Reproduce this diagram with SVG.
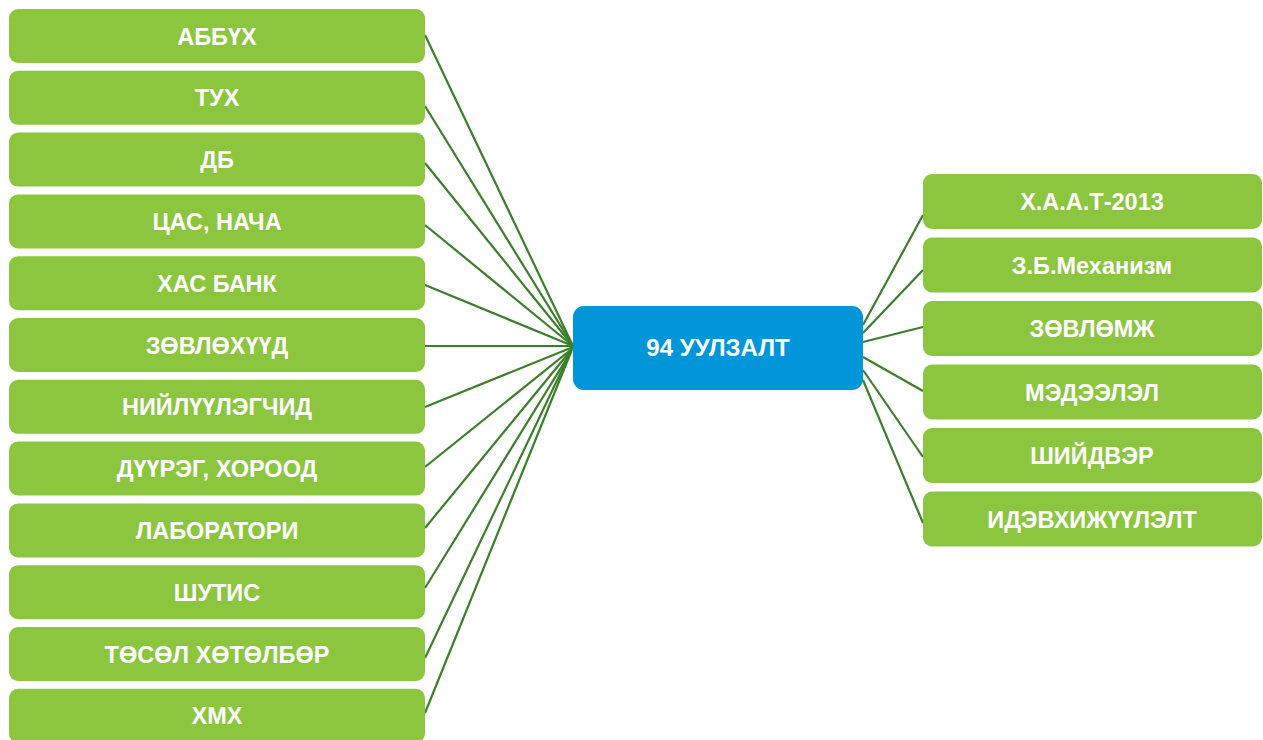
<svg xmlns="http://www.w3.org/2000/svg" width="1263" height="740" viewBox="0 0 1263 740">
<style>
.g{fill:#8cc63f}
.b{fill:#0096d9}
.t{font-family:"Liberation Sans",Arial,sans-serif;font-weight:bold;font-size:23.5px;fill:#ffffff;text-anchor:middle}
.c{stroke:#3b7f2a;stroke-width:2.2;fill:none}
</style>
<rect width="1263" height="740" fill="#ffffff"/>
<g id="connectors">
<line class="c" x1="425" y1="35" x2="573" y2="346"/>
<line class="c" x1="425" y1="106" x2="573" y2="346"/>
<line class="c" x1="425" y1="163" x2="573" y2="346"/>
<line class="c" x1="425" y1="225" x2="573" y2="346"/>
<line class="c" x1="425" y1="285" x2="573" y2="346"/>
<line class="c" x1="425" y1="346" x2="573" y2="346"/>
<line class="c" x1="425" y1="407" x2="573" y2="347"/>
<line class="c" x1="425" y1="467" x2="573" y2="348"/>
<line class="c" x1="425" y1="528" x2="572" y2="349"/>
<line class="c" x1="425" y1="588" x2="572" y2="350"/>
<line class="c" x1="425" y1="658" x2="571" y2="351"/>
<line class="c" x1="425" y1="713" x2="571" y2="352"/>
<line class="c" x1="863" y1="325" x2="923" y2="215"/>
<line class="c" x1="863" y1="333" x2="923" y2="270"/>
<line class="c" x1="863" y1="342" x2="923" y2="327"/>
<line class="c" x1="863" y1="357" x2="923" y2="391"/>
<line class="c" x1="863" y1="370" x2="923" y2="457"/>
<line class="c" x1="863" y1="380" x2="923" y2="523"/>
</g>
<g id="center"><rect class="b" x="573" y="306" width="290" height="84" rx="11"/><text class="t" x="718" y="356" style="font-size:24px">94 УУЛЗАЛТ</text></g>
<g id="l1"><rect class="g" x="9" y="9" width="416" height="54" rx="9"/><text class="t" x="217" y="44.5">АББҮХ</text></g>
<g id="l2"><rect class="g" x="9" y="70.8" width="416" height="54" rx="9"/><text class="t" x="217" y="106.3">ТУХ</text></g>
<g id="l3"><rect class="g" x="9" y="132.6" width="416" height="54" rx="9"/><text class="t" x="217" y="168.1">ДБ</text></g>
<g id="l4"><rect class="g" x="9" y="194.4" width="416" height="54" rx="9"/><text class="t" x="217" y="229.9">ЦАС, НАЧА</text></g>
<g id="l5"><rect class="g" x="9" y="256.2" width="416" height="54" rx="9"/><text class="t" x="217" y="291.7">ХАС БАНК</text></g>
<g id="l6"><rect class="g" x="9" y="318" width="416" height="54" rx="9"/><text class="t" x="217" y="353.5">ЗӨВЛӨХҮҮД</text></g>
<g id="l7"><rect class="g" x="9" y="379.8" width="416" height="54" rx="9"/><text class="t" x="217" y="415.3">НИЙЛҮҮЛЭГЧИД</text></g>
<g id="l8"><rect class="g" x="9" y="441.6" width="416" height="54" rx="9"/><text class="t" x="217" y="477.1">ДҮҮРЭГ, ХОРООД</text></g>
<g id="l9"><rect class="g" x="9" y="503.4" width="416" height="54" rx="9"/><text class="t" x="217" y="538.9">ЛАБОРАТОРИ</text></g>
<g id="l10"><rect class="g" x="9" y="565.2" width="416" height="54" rx="9"/><text class="t" x="217" y="600.7">ШУТИС</text></g>
<g id="l11"><rect class="g" x="9" y="627" width="416" height="54" rx="9"/><text class="t" x="217" y="662.5">ТӨСӨЛ ХӨТӨЛБӨР</text></g>
<g id="l12"><rect class="g" x="9" y="688.8" width="416" height="54" rx="9"/><text class="t" x="217" y="724.3">ХМХ</text></g>
<g id="r1"><rect class="g" x="923" y="174" width="339" height="55" rx="9"/><text class="t" x="1092" y="210">Х.А.А.Т-2013</text></g>
<g id="r2"><rect class="g" x="923" y="237.5" width="339" height="55" rx="9"/><text class="t" x="1092" y="273.5">З.Б.Механизм</text></g>
<g id="r3"><rect class="g" x="923" y="301" width="339" height="55" rx="9"/><text class="t" x="1092" y="337">ЗӨВЛӨМЖ</text></g>
<g id="r4"><rect class="g" x="923" y="364.5" width="339" height="55" rx="9"/><text class="t" x="1092" y="400.5">МЭДЭЭЛЭЛ</text></g>
<g id="r5"><rect class="g" x="923" y="428" width="339" height="55" rx="9"/><text class="t" x="1092" y="464">ШИЙДВЭР</text></g>
<g id="r6"><rect class="g" x="923" y="491.5" width="339" height="55" rx="9"/><text class="t" x="1092" y="527.5">ИДЭВХИЖҮҮЛЭЛТ</text></g>
</svg>
